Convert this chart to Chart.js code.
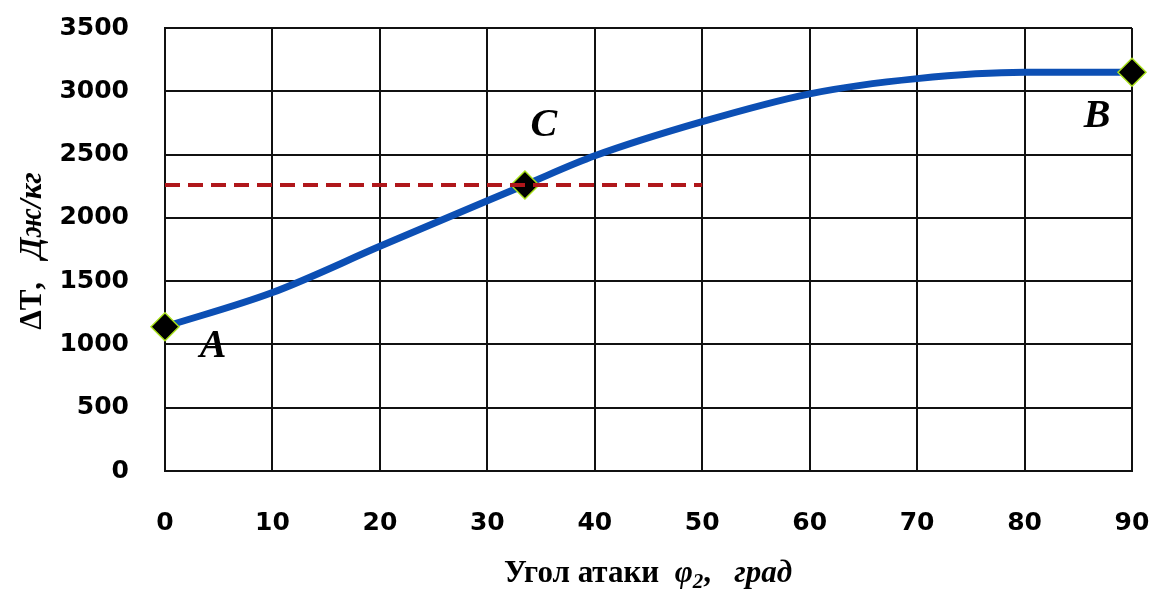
<!DOCTYPE html>
<html>
<head>
<meta charset="utf-8">
<script src="https://cdn.jsdelivr.net/npm/chart.js@4"></script>
<style>
  html, body { margin: 0; padding: 0; background: #ffffff; }
  #wrap { width: 1155px; height: 589px; }
</style>
</head>
<body>
<div id="wrap"><canvas id="c" width="1155" height="589"></canvas></div>
<script>
// Angle of attack (deg) and specific work ΔT (J/kg)
const angles   = [0, 10, 20, 30, 33.5, 40, 50, 60, 70, 80, 90];
const deltaT   = [1140, 1410, 1775, 2135, 2260, 2490, 2760, 2980, 3100, 3150, 3150];
// Named points on the curve
const markedAngles = [0, 33.5, 90];
const markedNames  = ['A', 'C', 'B'];
// Horizontal reference level through point C
const refLevel = 2260;
const refRange = [0, 50];
// Axis ticks
const xTicks = [0, 10, 20, 30, 40, 50, 60, 70, 80, 90];
const yTicks = [0, 500, 1000, 1500, 2000, 2500, 3000, 3500];

const curve = angles.map((a, i) => ({ x: a, y: deltaT[i] }));
const refLine = refRange.map(a => ({ x: a, y: refLevel }));
const isMarked = ctx => markedAngles.includes(angles[ctx.dataIndex]);

// Letter offsets (px) from each named point
const letterOffsets = { A: [48, 20], C: [19, -59], B: [-35, 44] };

// Keep the plot area fixed: no extra room for overhanging tick labels
const noOverhang = s => {
  s.paddingLeft = 0; s.paddingRight = 0; s.paddingTop = 0; s.paddingBottom = 0;
};

const annotate = {
  id: 'annotate',
  afterDatasetsDraw(chart) {
    const { ctx, scales: { x, y } } = chart;
    ctx.save();
    ctx.fillStyle = '#000';
    ctx.textAlign = 'center';
    ctx.textBaseline = 'middle';
    ctx.font = 'italic bold 40px "Liberation Serif", "DejaVu Serif", serif';
    markedAngles.forEach((a, i) => {
      const name = markedNames[i];
      const v = deltaT[angles.indexOf(a)];
      const [dx, dy] = letterOffsets[name];
      ctx.fillText(name, x.getPixelForValue(a) + dx, y.getPixelForValue(v) + dy);
    });
    ctx.restore();
  },
  afterDraw(chart) {
    const { ctx } = chart;
    const serif = '"Liberation Serif", "DejaVu Serif", serif';
    const drawRuns = (runs, cx, cy) => {
      let total = 0;
      runs.forEach(r => { ctx.font = r.font; total += ctx.measureText(r.t).width; });
      let px = cx - total / 2;
      runs.forEach(r => {
        ctx.font = r.font;
        ctx.fillText(r.t, px, cy + (r.dy || 0));
        px += ctx.measureText(r.t).width;
      });
    };
    ctx.save();
    ctx.fillStyle = '#000';
    ctx.textBaseline = 'alphabetic';
    ctx.textAlign = 'left';
    // x axis title
    drawRuns([
      { t: 'Угол атаки  ', font: 'bold 31px ' + serif },
      { t: 'φ', font: 'italic bold 31px ' + serif },
      { t: '2', font: 'italic bold 21px ' + serif, dy: 6 },
      { t: ',   ', font: 'bold 31px ' + serif },
      { t: 'град', font: 'italic bold 31px ' + serif }
    ], 648, 582);
    // y axis title
    ctx.translate(41, 251);
    ctx.rotate(-Math.PI / 2);
    drawRuns([
      { t: 'ΔT', font: 'bold 31px ' + serif },
      { t: ',   ', font: 'bold 31px ' + serif },
      { t: 'Дж/кг', font: 'italic bold 31px ' + serif }
    ], 0, 0);
    ctx.restore();
  }
};

const tickFont = { family: '"DejaVu Sans", sans-serif', size: 25, weight: 'bold' };

new Chart(document.getElementById('c'), {
  type: 'line',
  data: {
    datasets: [
      {
        data: refLine,
        borderColor: '#b0171b',
        borderWidth: 4,
        borderDash: [15, 8],
        pointRadius: 0,
        fill: false
      },
      {
        data: curve,
        borderColor: '#0c4fb4',
        borderWidth: 7,
        cubicInterpolationMode: 'monotone',
        pointStyle: 'rectRot',
        pointRadius: ctx => isMarked(ctx) ? 14 : 0,
        pointHoverRadius: ctx => isMarked(ctx) ? 14 : 0,
        pointBackgroundColor: '#000000',
        pointBorderColor: '#a8e01a',
        pointBorderWidth: 1.5,
        fill: false,
        clip: false
      }
    ]
  },
  options: {
    responsive: false,
    animation: false,
    devicePixelRatio: 1,
    layout: { padding: { top: 28, right: 23, left: 0, bottom: 0 } },
    plugins: { legend: { display: false }, tooltip: { enabled: false } },
    scales: {
      x: {
        type: 'linear',
        min: 0, max: 90,
        afterBuildTicks: s => { s.ticks = xTicks.map(v => ({ value: v })); },
        afterFit: s => { s.height = 118; noOverhang(s); },
        grid: { color: '#111', lineWidth: 2, drawTicks: false },
        border: { display: true, color: '#111', width: 2 },
        ticks: {
          padding: 37,
          color: '#000',
          font: tickFont,
          callback: v => String(v)
        }
      },
      y: {
        type: 'linear',
        min: 0, max: 3500,
        afterBuildTicks: s => { s.ticks = yTicks.map(v => ({ value: v })); },
        afterFit: s => { s.width = 165; noOverhang(s); },
        grid: { color: '#111', lineWidth: 2, drawTicks: false },
        border: { display: true, color: '#111', width: 2 },
        ticks: {
          padding: 36,
          color: '#000',
          font: tickFont,
          callback: v => String(v)
        }
      }
    }
  },
  plugins: [annotate]
});
</script>
</body>
</html>
